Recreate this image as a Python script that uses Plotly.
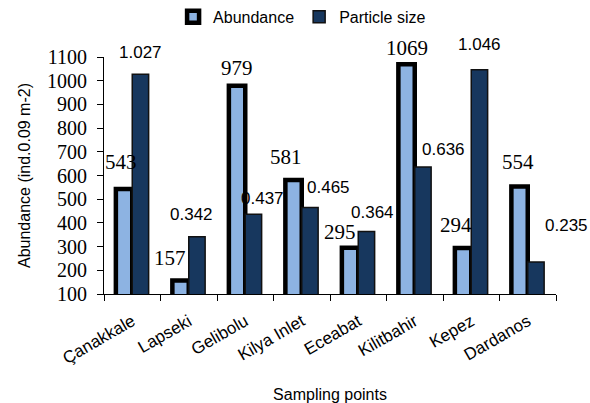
import plotly.graph_objects as go

categories = ["Çanakkale", "Lapseki", "Gelibolu", "Kilya Inlet", "Eceabat",
              "Kilitbahir", "Kepez", "Dardanos"]
abundance = [543, 157, 979, 581, 295, 1069, 294, 554]
particle_size = [1.027, 0.342, 0.437, 0.465, 0.364, 0.636, 1.046, 0.235]

# label offsets (px) relative to bar tops, as moved in the original
ab_dx = [-3, -11, 0, -8, -10, 0, -7, -2]
ab_dy = [27, 22, 18, 23, 16, 16, 23, 24]
ps_dx = [0, -5, 9, 19, 6, 21, 0, 31]
ps_dy = [22, 22, 16, 20, 19, 17, 25, 37]

BW = 0.29
fig = go.Figure()
fig.add_trace(go.Bar(
    x=categories, y=abundance, name="Abundance",
    width=BW, offset=-BW,
    marker=dict(color="#8DB3E2", line=dict(color="black", width=4.5)),
    yaxis="y",
))
fig.add_trace(go.Bar(
    x=categories, y=particle_size, name="Particle size",
    width=BW, offset=0,
    marker=dict(color="#17375E", line=dict(color="#111111", width=1.5)),
    yaxis="y2",
))

annotations = []
for i, c in enumerate(categories):
    annotations.append(dict(
        x=c, y=abundance[i], xref="x", yref="y", text=str(abundance[i]),
        showarrow=False, xshift=-8 + ab_dx[i], yshift=ab_dy[i],
        font=dict(family="Liberation Serif", size=21, color="black"),
    ))
    annotations.append(dict(
        x=c, y=particle_size[i], xref="x", yref="y2",
        text=f"{particle_size[i]:.3f}",
        showarrow=False, xshift=8 + ps_dx[i], yshift=ps_dy[i],
        font=dict(family="Liberation Sans", size=17, color="black"),
    ))

fig.update_layout(
    width=590, height=403,
    margin=dict(l=104, r=34, t=57, b=109, autoexpand=False),
    paper_bgcolor="white", plot_bgcolor="white",
    barmode="overlay",
    showlegend=True,
    legend=dict(orientation="h", xref="container", yref="container",
                x=0.512, y=0.958, xanchor="center", yanchor="middle",
                font=dict(family="Liberation Sans", size=16, color="black"),
                itemwidth=30, bgcolor="rgba(0,0,0,0)"),
    annotations=annotations,
    xaxis=dict(
        range=[-0.5, len(categories) - 0.5],
        showline=True, linecolor="black", linewidth=1,
        ticks="outside", ticklen=6, tickcolor="black", tickson="boundaries",
        tickangle=-30, automargin=False, ticklabelstandoff=10,
        tickfont=dict(family="Liberation Sans", size=17, color="black"),
        title=dict(text="Sampling points", standoff=28,
                   font=dict(family="Liberation Sans", size=16, color="black")),
        showgrid=False,
    ),
    yaxis=dict(
        range=[100, 1100], dtick=100, automargin=False,
        showline=True, linecolor="black", linewidth=1,
        ticks="outside", ticklen=6, tickcolor="black", ticklabelstandoff=6,
        tickfont=dict(family="Liberation Serif", size=20, color="black"),
        title=dict(text="Abundance (ind.0.09 m-2)", standoff=12,
                   font=dict(family="Liberation Sans", size=16, color="black")),
        showgrid=False, zeroline=False,
    ),
    yaxis2=dict(range=[0.1, 1.1], overlaying="y", visible=False),
)

fig.write_html(
    "out.html",
    config={"displayModeBar": False},
    post_script="document.body.style.margin='0';document.body.style.overflow='hidden';",
)
